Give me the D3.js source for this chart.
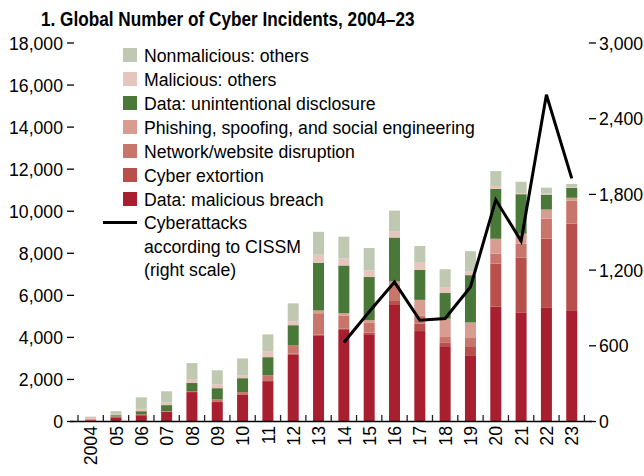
<!DOCTYPE html>
<html>
<head>
<meta charset="utf-8">
<script src="https://cdn.jsdelivr.net/npm/d3@7"></script>
<style>
  body { margin: 0; background: #fff; }
  svg text { font-family: "Liberation Sans", Arial, sans-serif; fill: #000; font-size: 19px; }
</style>
</head>
<body>
<svg id="chart" width="644" height="476"></svg>
<script>
// chart data
const years = ["2004", "05", "06", "07", "08", "09", "10", "11", "12", "13",
  "14", "15", "16", "17", "18", "19", "20", "21", "22", "23"];

const maliciousBreach = [60, 200, 300, 464, 1400, 925, 1260, 1920, 3170, 4070,
  4350, 4150, 5540, 4300, 3580, 3150, 5470, 5190, 5430, 5290];
const cyberExtortion = [0, 0, 0, 0, 0, 0, 0, 0, 60, 60,
  60, 80, 190, 350, 160, 430, 2040, 2610, 3270, 4120];
const networkDisruption = [30, 40, 50, 30, 50, 140, 140, 270, 400, 1020,
  620, 460, 790, 395, 280, 390, 470, 660, 950, 1090];
const phishing = [20, 0, 0, 0, 0, 0, 0, 0, 0, 130,
  130, 130, 140, 740, 870, 740, 710, 470, 430, 140];
const unintentionalDisclosure = [10, 60, 140, 285, 380, 520, 660, 870, 950, 2270,
  2260, 2050, 2090, 1420, 1220, 2250, 2370, 1880, 710, 470];
const maliciousOthers = [50, 60, 110, 140, 190, 190, 140, 285, 190, 380,
  330, 320, 280, 380, 280, 190, 140, 50, 50, 30];
const nonmaliciousOthers = [60, 130, 550, 520, 760, 660, 800, 800, 850, 1090,
  1040, 1060, 1000, 760, 850, 950, 710, 540, 280, 160];

// CISSM cyberattacks, right scale, 2014 onwards
const cissmYears = ["14", "15", "16", "17", "18", "19", "20", "21", "22", "23"];
const cissm = [626, 870, 1105, 802, 816, 1066, 1757, 1430, 2590, 1927];

const leftTicks = [0, 2000, 4000, 6000, 8000, 10000, 12000, 14000, 16000, 18000];
const rightTicks = [0, 600, 1200, 1800, 2400, 3000];

// series, bottom of the stack first
const series = [
  { key: "breach", label: "Data: malicious breach", values: maliciousBreach, color: "#a81f30" },
  { key: "extortion", label: "Cyber extortion", values: cyberExtortion, color: "#b84f4a" },
  { key: "network", label: "Network/website disruption", values: networkDisruption, color: "#c8766b" },
  { key: "phishing", label: "Phishing, spoofing, and social engineering", values: phishing, color: "#d89c90" },
  { key: "disclosure", label: "Data: unintentional disclosure", values: unintentionalDisclosure, color: "#4a7838" },
  { key: "malOthers", label: "Malicious: others", values: maliciousOthers, color: "#e6c5bc" },
  { key: "nonmalOthers", label: "Nonmalicious: others", values: nonmaliciousOthers, color: "#bfc9b2" }
];

const rows = years.map((y, i) => {
  const r = { year: y };
  series.forEach(s => { r[s.key] = s.values[i]; });
  return r;
});

const svg = d3.select("#chart");

const x = d3.scaleBand().domain(years).range([78, 584.4]);
const yLeft = d3.scaleLinear().domain([0, 18000]).range([421.5, 43]);
const yRight = d3.scaleLinear().domain([0, 3000]).range([421.5, 43]);
const barW = 11;
const squeeze = 0.93; // the reference uses a condensed face

// title
svg.append("text")
  .attr("transform", "translate(41,26) scale(0.86,1)")
  .style("font-weight", "bold").style("font-size", "20px")
  .text("1. Global Number of Cyber Incidents, 2004–23");

// stacked bars
const stacked = d3.stack().keys(series.map(s => s.key))(rows);
svg.append("g").selectAll("g")
  .data(stacked)
  .join("g")
  .attr("fill", (d, i) => series[i].color)
  .selectAll("rect")
  .data(d => d)
  .join("rect")
  .attr("x", d => x(d.data.year) + x.bandwidth() / 2 - barW / 2)
  .attr("width", barW)
  .attr("y", d => yLeft(d[1]))
  .attr("height", d => yLeft(d[0]) - yLeft(d[1]));

// left axis: labels with short dash ticks
const left = svg.append("g");
left.selectAll("line").data(leftTicks).join("line")
  .attr("x1", 67).attr("x2", 74)
  .attr("y1", d => yLeft(d)).attr("y2", d => yLeft(d))
  .attr("stroke", "#000").attr("stroke-width", 1.3);
left.selectAll("text").data(leftTicks).join("text")
  .attr("transform", d => `translate(63,${yLeft(d)}) scale(${squeeze},1)`)
  .attr("dy", "0.35em")
  .attr("text-anchor", "end")
  .text(d => d3.format(",")(d));

// right axis
const right = svg.append("g");
right.selectAll("line").data(rightTicks).join("line")
  .attr("x1", 589).attr("x2", 596)
  .attr("y1", d => yRight(d)).attr("y2", d => yRight(d))
  .attr("stroke", "#000").attr("stroke-width", 1.3);
right.selectAll("text").data(rightTicks).join("text")
  .attr("transform", d => `translate(599,${yRight(d)}) scale(${squeeze},1)`)
  .attr("dy", "0.35em")
  .text(d => d3.format(",")(d));

// x axis: baseline, upward ticks between bars, rotated labels
const bottom = svg.append("g");
bottom.append("line")
  .attr("x1", 70).attr("x2", 592)
  .attr("y1", 421.5).attr("y2", 421.5)
  .attr("stroke", "#000").attr("stroke-width", 1.5);
const bounds = years.map(y => x(y)).concat([x.range()[1]]);
bottom.selectAll("line.tick").data(bounds).join("line")
  .attr("class", "tick")
  .attr("x1", d => d).attr("x2", d => d)
  .attr("y1", 421.5).attr("y2", 415)
  .attr("stroke", "#222").attr("stroke-width", 1.3);
bottom.selectAll("text").data(years).join("text")
  .attr("transform", d => `translate(${x(d) + x.bandwidth() / 2},426) rotate(-90) scale(${squeeze},1)`)
  .attr("dy", "0.35em")
  .attr("text-anchor", "end")
  .text(d => d);

// CISSM line on the right scale
const line = d3.line()
  .x(d => x(d.year) + x.bandwidth() / 2)
  .y(d => yRight(d.value));
svg.append("path")
  .datum(cissmYears.map((y, i) => ({ year: y, value: cissm[i] })))
  .attr("d", line)
  .attr("fill", "none").attr("stroke", "#000").attr("stroke-width", 3)
  .attr("stroke-linejoin", "miter");

// legend, top entry first
const legend = svg.append("g");
const legendItems = series.slice().reverse();
legendItems.forEach((s, i) => {
  const cy = 55 + i * 24;
  legend.append("rect")
    .attr("x", 123).attr("y", cy - 7).attr("width", 14).attr("height", 14)
    .attr("fill", s.color);
  legend.append("text")
    .attr("transform", `translate(144,${cy}) scale(${squeeze},1)`)
    .attr("dy", "0.35em")
    .text(s.label);
});
legend.append("line")
  .attr("x1", 103).attr("x2", 137).attr("y1", 222.5).attr("y2", 222.5)
  .attr("stroke", "#000").attr("stroke-width", 3);
["Cyberattacks", "according to CISSM", "(right scale)"].forEach((t, i) => {
  legend.append("text")
    .attr("transform", `translate(144,${222.5 + i * 23.5}) scale(${squeeze},1)`)
    .attr("dy", "0.35em")
    .text(t);
});
</script>
</body>
</html>
